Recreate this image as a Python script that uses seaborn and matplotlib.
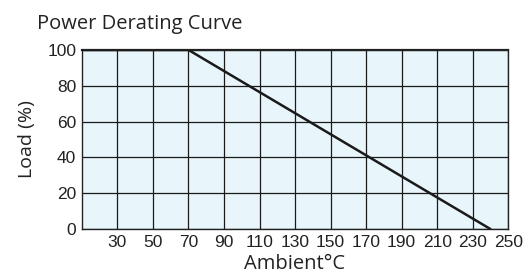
import matplotlib
matplotlib.use("Agg")
import matplotlib.pyplot as plt
import seaborn as sns
import pandas as pd

# derating curve points
temp = [10, 70, 240]
load = [100, 100, 0]
x_ticks = [30, 50, 70, 90, 110, 130, 150, 170, 190, 210, 230, 250]
y_ticks = [0, 20, 40, 60, 80, 100]

df = pd.DataFrame({"temp": temp, "load": load})

sns.set_style("white")
plt.rcParams["font.family"] = ["Liberation Sans", "DejaVu Sans"]

fig = plt.figure(figsize=(5.25, 2.79), dpi=100)
ax = fig.add_axes([0.156, 0.179, 0.812, 0.642])
ax.set_facecolor("#e8f5fb")

sns.lineplot(data=df, x="temp", y="load", color="#1a1a1a", linewidth=1.8, ax=ax, zorder=3)

ax.set_xlim(10, 250)
ax.set_ylim(0, 100)
ax.set_xticks(x_ticks)
ax.set_yticks(y_ticks)
ax.grid(True, color="#1a1a1a", linewidth=0.9)
ax.tick_params(axis="both", length=0, labelsize=12.5, colors="#222222", pad=4)
for s in ax.spines.values():
    s.set_color("#222222")
    s.set_linewidth(1.0)
ax.spines["top"].set_linewidth(1.6)

ax.set_xlabel("Ambient°C", fontsize=14.5, family="Open Sans", color="#222222", labelpad=3)
ax.set_ylabel("Load (%)", fontsize=14, family="Open Sans", color="#222222", labelpad=8)
fig.text(0.07, 0.915, "Power Derating Curve", fontsize=14.5, family="Open Sans",
         color="#222222", va="center", ha="left")

fig.savefig("out.png", dpi=100)
